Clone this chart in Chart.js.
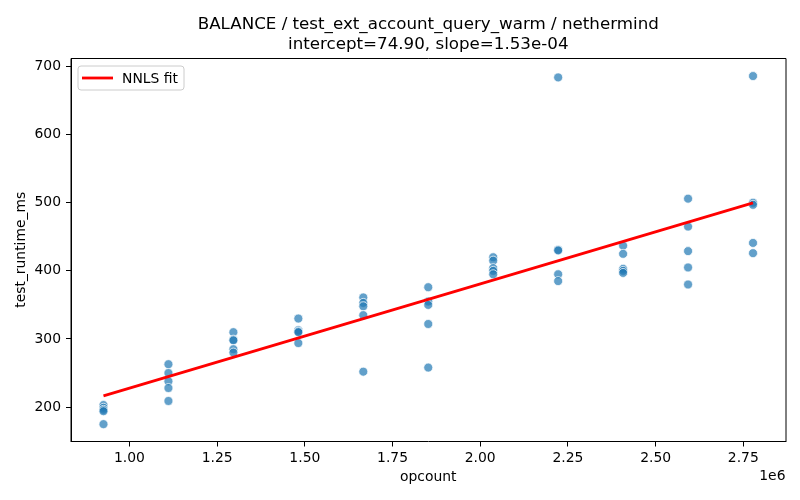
<!DOCTYPE html>
<html>
<head>
<meta charset="utf-8">
<script src="https://cdn.jsdelivr.net/npm/chart.js@4.4.1/dist/chart.umd.min.js"></script>
<style>
  html, body { margin: 0; padding: 0; background: #ffffff; }
  #wrap { width: 800px; height: 500px; }
</style>
</head>
<body>
<div id="wrap"><canvas id="c" width="800" height="500"></canvas></div>
<script>
// ---- data ----
const titleLines = ["BALANCE / test_ext_account_query_warm / nethermind", "intercept=74.90, slope=1.53e-04"];
const xLabel = "opcount";
const yLabel = "test_runtime_ms";
const xOffsetText = "1e6";
const fitLabel = "NNLS fit";

const xTickValues = [1000000, 1250000, 1500000, 1750000, 2000000, 2250000, 2500000, 2750000];
const xTickLabels = ["1.00", "1.25", "1.50", "1.75", "2.00", "2.25", "2.50", "2.75"];
const yTickValues = [200, 300, 400, 500, 600, 700];
const yTickLabels = ["200", "300", "400", "500", "600", "700"];

const opcounts = [925926, 1111111, 1296296, 1481481, 1666667, 1851852, 2037037, 2222222, 2407407, 2592593, 2777778];
const runtimes0925 = [203, 199, 196, 194, 175];
const runtimes1111 = [263, 250, 238, 228, 209];
const runtimes1296 = [310, 299, 298, 285, 280];
const runtimes1481 = [330, 313, 311, 310, 294];
const runtimes1667 = [361, 353, 348, 335, 252];
const runtimes1852 = [376, 355, 350, 322, 258];
const runtimes2037 = [420, 415, 404, 400, 395];
const runtimes2222 = [684, 431, 430, 395, 385];
const runtimes2407 = [437, 425, 403, 400, 397];
const runtimes2593 = [506, 465, 429, 405, 380];
const runtimes2778 = [686, 500, 497, 441, 426];
const runtimesByOpcount = [runtimes0925, runtimes1111, runtimes1296, runtimes1481, runtimes1667,
  runtimes1852, runtimes2037, runtimes2222, runtimes2407, runtimes2593, runtimes2778];

const fitX = [925926, 2777778];
const fitY = [216.6, 499.9];

// ---- build datasets ----
const scatterPoints = [];
opcounts.forEach((x, i) => runtimesByOpcount[i].forEach(y => scatterPoints.push({x: x, y: y})));
const fitPoints = fitX.map((x, i) => ({x: x, y: fitY[i]}));

const FONT = "'DejaVu Sans', sans-serif";

const framePlugin = {
  id: 'frame',
  afterDraw(chart) {
    const {ctx, chartArea: a} = chart;
    ctx.save();
    ctx.strokeStyle = '#000';
    ctx.lineWidth = 1;
    ctx.beginPath();
    ctx.moveTo(a.left, a.bottom + 0.5);
    ctx.lineTo(a.left, a.top + 0.5);
    ctx.lineTo(a.right + 0.5, a.top + 0.5);
    ctx.lineTo(a.right + 0.5, a.bottom + 0.5);
    ctx.stroke();
    // title
    ctx.fillStyle = '#000';
    ctx.font = '16.7px ' + FONT;
    ctx.textAlign = 'center';
    ctx.textBaseline = 'alphabetic';
    const cx = (a.left + a.right) / 2;
    ctx.fillText(titleLines[0], cx, 29);
    ctx.fillText(titleLines[1], cx, 49);
    // offset text
    ctx.font = '13.9px ' + FONT;
    ctx.textAlign = 'right';
    ctx.textBaseline = 'middle';
    ctx.fillText(xOffsetText, a.right, 476);
    // legend
    const ds = chart.data.datasets[0];
    const bx = a.left + 7, by = a.top + 8, bw = 106, bh = 24, r = 3;
    ctx.fillStyle = 'rgba(255,255,255,0.8)';
    ctx.strokeStyle = '#cccccc';
    ctx.lineWidth = 1;
    ctx.beginPath();
    ctx.moveTo(bx + r, by);
    ctx.lineTo(bx + bw - r, by);
    ctx.quadraticCurveTo(bx + bw, by, bx + bw, by + r);
    ctx.lineTo(bx + bw, by + bh - r);
    ctx.quadraticCurveTo(bx + bw, by + bh, bx + bw - r, by + bh);
    ctx.lineTo(bx + r, by + bh);
    ctx.quadraticCurveTo(bx, by + bh, bx, by + bh - r);
    ctx.lineTo(bx, by + r);
    ctx.quadraticCurveTo(bx, by, bx + r, by);
    ctx.closePath();
    ctx.fill();
    ctx.stroke();
    ctx.strokeStyle = ds.borderColor;
    ctx.lineWidth = 2.8;
    ctx.beginPath();
    ctx.moveTo(bx + 4, by + bh / 2);
    ctx.lineTo(bx + 35, by + bh / 2);
    ctx.stroke();
    ctx.fillStyle = '#000';
    ctx.textAlign = 'left';
    ctx.textBaseline = 'middle';
    ctx.fillText(ds.label, bx + 44, by + bh / 2 + 1);
    ctx.restore();
  }
};

new Chart(document.getElementById('c'), {
  type: 'scatter',
  data: {
    datasets: [
      {
        type: 'line',
        label: fitLabel,
        data: fitPoints,
        borderColor: '#ff0000',
        backgroundColor: '#ff0000',
        borderWidth: 2.8,
        pointRadius: 0,
        showLine: true,
        fill: false
      },
      {
        label: 'runs',
        data: scatterPoints,
        backgroundColor: 'rgba(31,119,180,0.7)',
        borderColor: 'rgba(255,255,255,0.9)',
        borderWidth: 0.8,
        pointRadius: 4.5,
        pointHoverRadius: 4.5
      }
    ]
  },
  options: {
    responsive: false,
    animation: false,
    devicePixelRatio: 1,
    layout: { padding: { left: 0, right: 14.5, top: 58, bottom: 0 } },
    plugins: {
      legend: { display: false },
      title: { display: false },
      tooltip: { enabled: false }
    },
    scales: {
      x: {
        type: 'linear',
        min: 833333,
        max: 2870370,
        afterFit(scale) { scale.height = 58.5; },
        afterBuildTicks(scale) { scale.ticks = xTickValues.map(v => ({value: v})); },
        grid: { display: true, drawOnChartArea: false, drawTicks: true, tickLength: 5, color: '#000', lineWidth: 1 },
        border: { display: true, color: '#000', width: 1 },
        ticks: {
          autoSkip: false,
          maxRotation: 0,
          padding: 4,
          color: '#000',
          font: { family: FONT, size: 13.9 },
          callback: (v, i) => xTickLabels[xTickValues.indexOf(v)]
        },
        title: {
          display: true,
          text: xLabel,
          color: '#000',
          font: { family: FONT, size: 13.9 },
          padding: { top: 0, bottom: 14.6 }
        }
      },
      y: {
        type: 'linear',
        min: 149.5,
        max: 712.5,
        afterFit(scale) { scale.width = 71; },
        afterBuildTicks(scale) { scale.ticks = yTickValues.map(v => ({value: v})); },
        grid: { display: true, drawOnChartArea: false, drawTicks: true, tickLength: 5, color: '#000', lineWidth: 1 },
        border: { display: true, color: '#000', width: 1 },
        ticks: {
          autoSkip: false,
          padding: 5,
          color: '#000',
          font: { family: FONT, size: 13.9 },
          callback: (v) => yTickLabels[yTickValues.indexOf(v)]
        },
        title: {
          display: true,
          text: yLabel,
          color: '#000',
          font: { family: FONT, size: 13.9 },
          padding: { top: 13.3, bottom: 0 }
        }
      }
    }
  },
  plugins: [framePlugin]
});
</script>
</body>
</html>
